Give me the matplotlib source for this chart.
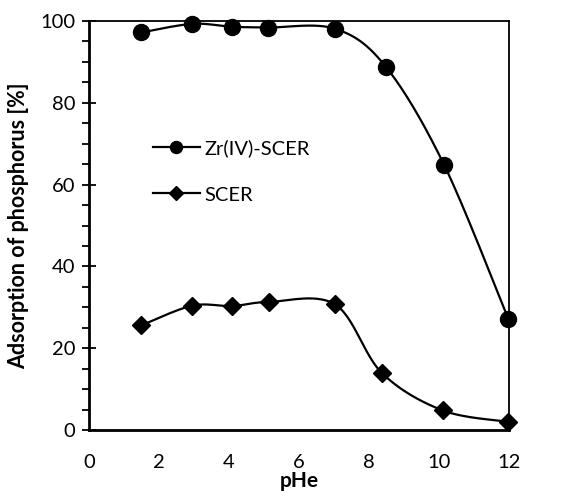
import numpy as np
import matplotlib
matplotlib.use('Agg')
from matplotlib import pyplot as plt

plt.rcParams['font.family'] = ['Lato', 'DejaVu Sans']

ph_zr = [1.5, 2.95, 4.08, 5.1, 7.03, 8.48, 10.15, 11.98]
ads_zr = [97.2, 99.3, 98.6, 98.4, 98.1, 88.8, 64.7, 27.1]

ph_scer = [1.5, 2.95, 4.08, 5.13, 7.03, 8.36, 10.1, 11.98]
ads_scer = [25.6, 30.4, 30.3, 31.3, 30.7, 14.0, 4.8, 2.0]


def smooth(x, y, n=30):
    # excel-like smoothed line: cubic bezier with catmull-rom control points
    x = np.asarray(x, float)
    y = np.asarray(y, float)
    px = np.concatenate([[x[0]], x, [x[-1]]])
    py = np.concatenate([[y[0]], y, [y[-1]]])
    xs, ys = [], []
    t = np.linspace(0, 1, n)
    for i in range(1, len(px) - 2):
        p0 = np.array([px[i], py[i]])
        p3 = np.array([px[i + 1], py[i + 1]])
        p1 = p0 + (np.array([px[i + 1], py[i + 1]]) - np.array([px[i - 1], py[i - 1]])) / 6
        p2 = p3 - (np.array([px[i + 2], py[i + 2]]) - np.array([px[i], py[i]])) / 6
        b = ((1 - t) ** 3)[:, None] * p0 + (3 * (1 - t) ** 2 * t)[:, None] * p1 \
            + (3 * (1 - t) * t ** 2)[:, None] * p2 + (t ** 3)[:, None] * p3
        xs.extend(b[:, 0])
        ys.extend(b[:, 1])
    return xs, ys


fig = plt.figure(figsize=(5.74, 5.0), dpi=100)
ax = fig.add_axes([0.155, 0.14, 0.732, 0.818])

for xv, yv, mk, ms, lab in [(ph_zr, ads_zr, 'o', 11.5, 'Zr(IV)-SCER'),
                            (ph_scer, ads_scer, 'D', 9, 'SCER')]:
    sx, sy = smooth(xv, yv)
    ax.plot(sx, sy, color='black', lw=1.6, zorder=2)
    ax.plot(xv, yv, linestyle='none', marker=mk, ms=ms, color='black', zorder=3, clip_on=False)
    ax.plot([], [], color='black', lw=1.6, marker=mk, ms=ms * 0.75, label=lab)

ax.set_xlim(0, 12)
ax.set_ylim(0, 100)
ax.set_xticks(np.arange(0, 13, 2))
ax.set_yticks(np.arange(0, 101, 20))
ax.set_yticks(np.arange(0, 101, 5), minor=True)
ax.tick_params(axis='x', length=0, pad=17, labelsize=14.5)
ax.tick_params(axis='y', which='major', direction='inout', length=10, width=1.3, labelsize=14.5, pad=5)
ax.tick_params(axis='y', which='minor', direction='out', length=5, width=1.3)
for s in ax.spines.values():
    s.set_linewidth(1.3)
ax.spines['left'].set_linewidth(2)
ax.spines['bottom'].set_linewidth(2)

ax.set_xlabel('pHe', fontsize=15, fontweight='bold', labelpad=0)
ax.set_ylabel('Adsorption of phosphorus [%]', fontsize=15.5, fontweight='bold', labelpad=8)

ax.legend(loc='upper left', bbox_to_anchor=(0.11, 0.755), frameon=False, fontsize=14.5,
          handlelength=2.3, handletextpad=0.25, labelspacing=1.45)

fig.savefig('out.png', dpi=100)
